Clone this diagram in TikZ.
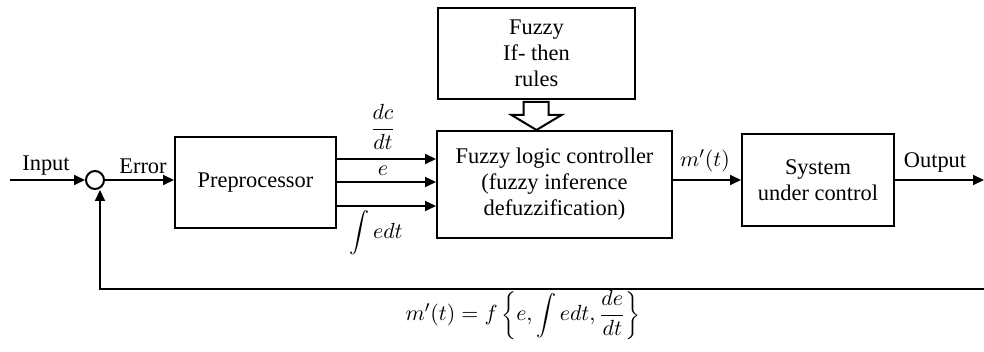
\documentclass[tikz,border=0pt]{standalone}
\usepackage{fontspec}
\setmainfont{Liberation Serif}
\usetikzlibrary{arrows.meta,calc}
\tikzset{
  blk/.style={draw, line width=1pt, align=center, inner sep=0pt, font=\fontsize{11.2}{13}\selectfont},
  con/.style={line width=1pt, -{Triangle[length=5.5pt,width=5pt]}},
  lab/.style={font=\fontsize{11.2}{13}\selectfont, inner sep=0pt},
  sumc/.style={draw, circle, line width=1pt, minimum size=9pt, inner sep=0pt},
}
\begin{document}
\begin{tikzpicture}[x=0.5pt,y=-0.5pt]
\useasboundingbox (0,0) rectangle (984,352);
% blocks
\node[blk, minimum width=80.5pt, minimum height=45.5pt] (prep) at (255.5,182.5) {Preprocessor};
\node[blk, minimum width=117.5pt, minimum height=53.5pt] (flc) at (554.5,184.5) {Fuzzy logic controller\\(fuzzy inference\\defuzzification)};
\node[blk, minimum width=98.5pt, minimum height=45.5pt] (rules) at (536.5,53.5) {Fuzzy\\If- then\\rules};
\node[blk, minimum width=76pt, minimum height=46pt] (sys) at (818,180) {System\\under control};
\node[sumc] (sum) at (95,180) {};
% coordinates
\coordinate (in) at (10,180);
\coordinate (out) at (984,180);
\coordinate (y1) at (0,159);
\coordinate (y2) at (0,182);
\coordinate (y3) at (0,206);
\coordinate (fbR) at (984,289);
\coordinate (fbL) at (100,289);
\coordinate (tip) at (rules.south |- flc.north);
% connectors
\draw[con] (in) -- (sum.west);
\draw[con] (sum.east) -- (sum.east -| prep.west);
\draw[con] (prep.east |- y1) -- (flc.west |- y1);
\draw[con] (prep.east |- y2) -- (flc.west |- y2);
\draw[con] (prep.east |- y3) -- (flc.west |- y3);
\draw[con] (flc.east |- sys.west) -- (sys.west);
\draw[con] (sys.east) -- (out);
\draw[con] (fbR) -- (fbL) -- (fbL |- sum.south);
% hollow arrow
\draw[line width=1pt, fill=white] (tip) -- ++(25,-15) -- ++(-13,0) -- ++(0,-13) -- ++(-25,0) -- ++(0,13) -- ++(-12,0) -- cycle;
% labels
\node[lab] (linput) at (46,166) {Input};
\node[lab] (lerror) at (143,166) {Error};
\node[lab] (lm) at (705,161) {$m'(t)$};
\node[lab] (lout) at (935,162) {Output};
\node[lab] (ldc) at (383,127) {$\displaystyle\frac{dc}{dt}$};
\node[lab] (le) at (383,171) {$e$};
\node[lab] (lint) at (376,233) {$\displaystyle\int edt$};
\node[lab] (lform) at (523,315) {$m'(t)=f\left\{e,\displaystyle\int edt,\frac{de}{dt}\right\}$};
\end{tikzpicture}
\end{document}
